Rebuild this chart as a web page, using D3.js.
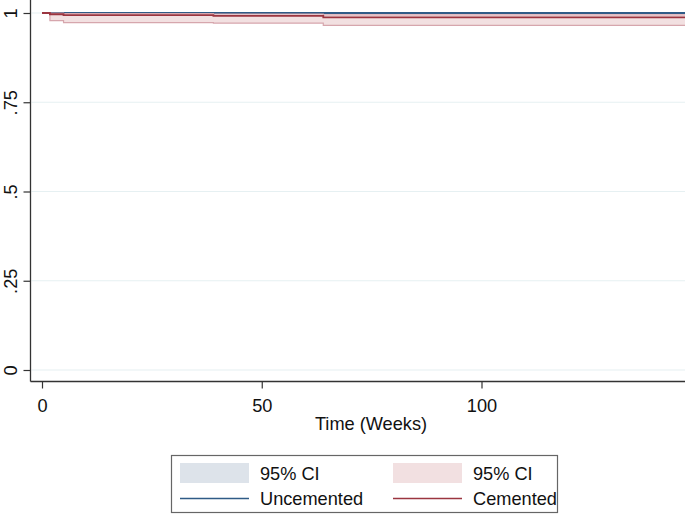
<!DOCTYPE html>
<html><head><meta charset="utf-8">
<script src="https://cdn.jsdelivr.net/npm/d3@7"></script>
<style>body{margin:0;background:#fff}svg{display:block;font-family:"Liberation Sans",Arial,sans-serif}</style>
</head><body><svg id="c" width="685" height="518"></svg>
<script>
// Data
const uncTimes = [0, 150];
const uncSurv  = [1, 1];
const uncLower = [1, 1];
const uncUpper = [1, 1];
const cemTimes = [0, 1.8, 4.9, 39, 64, 150];
const cemSurv  = [1, 0.9965, 0.9940, 0.9920, 0.9878, 0.9878];
const cemLower = [1, 0.9785, 0.9730, 0.9715, 0.9655, 0.9655];
const cemUpper = [1, 0.9995, 0.9985, 0.9972, 0.9948, 0.9948];
const yTicks = [0, 0.25, 0.5, 0.75, 1];
const yTickLabels = ["0", ".25", ".5", ".75", "1"];
const xTicks = [0, 50, 100];
const seriesNames = ["Uncemented", "Cemented"];
const ciLabel = "95% CI";
const xTitle = "Time (Weeks)";

const FS = 18.2;
const svg = d3.select("#c");
const W = 685;
const x = d3.scaleLinear().domain([0, 100]).range([42, 481.5]);
const y = d3.scaleLinear().domain([0, 1]).range([370, 13]);
const axisX0 = 30.5, axisY0 = 381.5;

// gridlines
svg.append("g").selectAll("line").data(yTicks).join("line")
  .attr("x1", axisX0 + 1).attr("x2", W)
  .attr("y1", d => y(d)).attr("y2", d => y(d))
  .attr("stroke", "#e6f0f2").attr("stroke-width", 1.2);

const mk = (t, a) => t.map((tt, i) => ({t: tt, v: a[i]}));
const band = (t, lo, hi) => t.map((tt, i) => ({t: tt, lo: lo[i], hi: hi[i]}));
const area = d3.area().curve(d3.curveStepAfter).x(d => x(d.t)).y0(d => y(d.lo)).y1(d => y(d.hi));
const line = d3.line().curve(d3.curveStepAfter).x(d => x(d.t)).y(d => y(d.v));

const plot = svg.append("g");
plot.append("path").datum(band(uncTimes, uncLower, uncUpper)).attr("d", area)
  .attr("fill", "#dde3ea").attr("stroke", "#b9c6d4").attr("stroke-width", 1);
plot.append("path").datum(mk(uncTimes, uncSurv)).attr("d", line)
  .attr("fill", "none").attr("stroke", "#2f5b86").attr("stroke-width", 2);
plot.append("path").datum(band(cemTimes, cemLower, cemUpper)).attr("d", area)
  .attr("fill", "#f2e0e1").attr("stroke", "none");
[cemLower, cemUpper].forEach(a => plot.append("path").datum(mk(cemTimes, a)).attr("d", line)
  .attr("fill", "none").attr("stroke", "#d6a6ad").attr("stroke-width", 1.2));
plot.append("path").datum(mk(cemTimes, cemSurv)).attr("d", line)
  .attr("fill", "none").attr("stroke", "#9b3540").attr("stroke-width", 1.8);

// Axes
const yAxis = d3.axisLeft(y).tickValues(yTicks).tickSize(7).tickFormat((d, i) => yTickLabels[i]);
const gy = svg.append("g").attr("transform", `translate(${axisX0},0)`).call(yAxis);
gy.select(".domain").attr("d", `M0,0V${axisY0}`).attr("stroke", "#333").attr("stroke-width", 1.3);
gy.selectAll(".tick line").attr("stroke", "#333").attr("stroke-width", 1.2);
gy.selectAll(".tick text").attr("x", 0).attr("dy", null)
  .attr("transform", "translate(-20,0) rotate(-90)")
  .attr("text-anchor", "middle").attr("dominant-baseline", "central")
  .attr("font-size", FS).attr("fill", "#111").style("font-family", "Liberation Sans, Arial, sans-serif");

const xAxis = d3.axisBottom(x).tickValues(xTicks).tickSize(7).tickFormat(d3.format("d"));
const gx = svg.append("g").attr("transform", `translate(0,${axisY0})`).call(xAxis);
gx.select(".domain").attr("d", `M${axisX0},0H${W}`).attr("stroke", "#333").attr("stroke-width", 1.3);
gx.selectAll(".tick line").attr("stroke", "#333").attr("stroke-width", 1.2);
gx.selectAll(".tick text").attr("y", 24).attr("dy", null).attr("dominant-baseline", "central")
  .attr("font-size", FS).attr("fill", "#111").style("font-family", "Liberation Sans, Arial, sans-serif");

svg.append("text").attr("x", 371).attr("y", 424).attr("text-anchor", "middle")
  .attr("dominant-baseline", "central").attr("font-size", FS).attr("fill", "#111").text(xTitle);

// Legend
const lg = svg.append("g");
lg.append("rect").attr("x", 171.5).attr("y", 455.5).attr("width", 386).attr("height", 57)
  .attr("fill", "#fff").attr("stroke", "#666").attr("stroke-width", 1.2);
const cols = [
  {x: 180, fill: "#dde3ea", line: "#2f5b86", name: seriesNames[0]},
  {x: 393, fill: "#f2e0e1", line: "#9b3540", name: seriesNames[1]}
];
cols.forEach(c => {
  lg.append("rect").attr("x", c.x).attr("y", 463).attr("width", 69).attr("height", 20).attr("fill", c.fill);
  lg.append("line").attr("x1", c.x).attr("x2", c.x + 69).attr("y1", 498.5).attr("y2", 498.5)
    .attr("stroke", c.line).attr("stroke-width", 1.6);
  lg.append("text").attr("x", c.x + 80).attr("y", 473.5).attr("dominant-baseline", "central")
    .attr("font-size", FS).attr("fill", "#111").text(ciLabel);
  lg.append("text").attr("x", c.x + 80).attr("y", 498.5).attr("dominant-baseline", "central")
    .attr("font-size", FS).attr("fill", "#111").text(c.name);
});
</script></body></html>
